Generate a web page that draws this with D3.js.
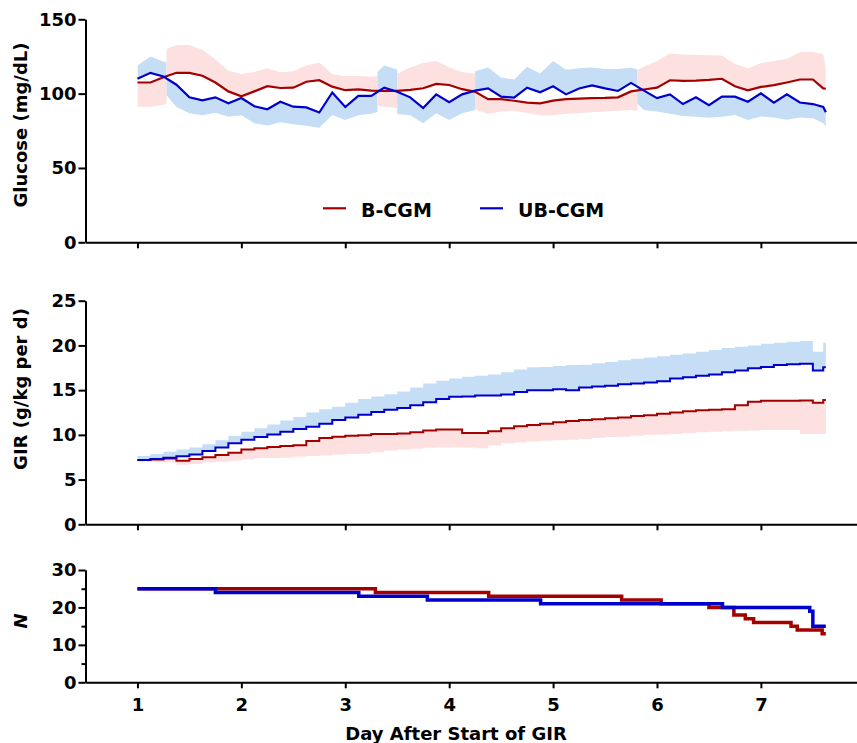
<!DOCTYPE html>
<html>
<head>
<meta charset="utf-8">
<script src="https://cdn.jsdelivr.net/npm/d3@7"></script>
<style>
  body { margin: 0; background: #fff; }
  svg text { font-family: "DejaVu Sans", sans-serif; font-weight: bold; fill: #000; }
</style>
</head>
<body>
<svg id="chart" width="857" height="743"></svg>
<script>
// time points (day after start of GIR)
const days = [1, 1.125, 1.25, 1.375, 1.5, 1.625, 1.75, 1.875, 2, 2.125, 2.25, 2.375, 2.5, 2.625, 2.75, 2.875,
  3, 3.125, 3.25, 3.375, 3.5, 3.625, 3.75, 3.875, 4, 4.125, 4.25, 4.375, 4.5, 4.625, 4.75, 4.875,
  5, 5.125, 5.25, 5.375, 5.5, 5.625, 5.75, 5.875, 6, 6.125, 6.25, 6.375, 6.5, 6.625, 6.75, 6.875,
  7, 7.125, 7.25, 7.375, 7.5, 7.6, 7.625];

// glucose mean and SD, B-CGM
const gluB = [107.5, 107.5, 111, 114, 114, 112, 107.5, 101.5, 98.2, 101.5, 105, 103.8, 104, 108, 109, 104.7,
  102.3, 102.9, 102, 101.8, 101.8, 102.5, 103.6, 106.5, 105.8, 103, 101.3, 96.3, 96.3, 95.2, 94, 93.5,
  95.3, 96.3, 96.7, 97, 97.1, 97.5, 101.5, 102.8, 104, 109, 108.6, 108.8, 109.2, 110, 105, 102.2,
  104.5, 105.7, 107.5, 109.5, 109.5, 103.5, 103.3];
const gluBsd = [16.3, 16.3, 18.5, 18.5, 18.7, 17.5, 15.5, 14, 14.8, 13, 12, 10.5, 11, 11, 12, 8.3,
  9.5, 8.9, 9.4, 10.6, 11.5, 15, 17, 15.5, 12, 11.5, 12, 10, 8.3, 6.7, 7, 8,
  9.8, 9.8, 9.7, 9.5, 9.1, 9, 12.5, 15.2, 18, 18, 17.7, 17.2, 16.6, 15.6, 15, 14.8,
  16, 16.3, 16, 18.3, 18.7, 22.9, 13.7];

// glucose mean and SD, UB-CGM
const gluUB = [110, 114, 111.5, 106, 97.5, 95.5, 97.5, 93.5, 97, 91.5, 89.5, 94.5, 91.2, 90.7, 87.3, 100.8,
  91, 98.5, 98.5, 104, 101.3, 97.5, 90.3, 99.5, 94.2, 99.5, 102, 103.5, 98, 97.3, 104, 100.9,
  105, 99.5, 103.5, 105.5, 103.5, 101.8, 107.2, 102, 97, 99.5, 93, 97.5, 92.3, 98, 98, 94.6,
  100.2, 93.9, 99.5, 94, 93, 91, 87.5];
const gluUBsd = [9, 11, 10, 15, 10.7, 10, 10.3, 9, 11.5, 11.5, 11, 13.8, 11.8, 12.3, 10.3, 15.2,
  8.7, 13, 12, 15, 15, 12, 10.3, 12.7, 12, 12.7, 13, 14, 12.8, 12.2, 14, 12.6,
  17, 16.5, 13.5, 12, 13, 14.7, 10.2, 13, 9, 13, 8, 13, 8.5, 13.5, 12.4, 12.3,
  15.6, 10, 17, 10, 9.5, 11, 9.5];

// one-sided SD shading: segments and side (+1 above, -1 below) for B-CGM; UB-CGM is opposite
const segStart = [1, 1.28, 3.31, 3.5, 4.25, 5.81];
const segEnd = [1.28, 3.31, 3.5, 4.25, 5.81, 7.625];
const segSideB = [-1, 1, -1, 1, -1, 1];

// GIR (g/kg per d)
const girB = [7.2, 7.25, 7.35, 7.1, 7.3, 7.5, 7.75, 8.0, 8.35, 8.5, 8.65, 8.75, 8.85, 9.3, 9.65, 9.8,
  9.9, 9.95, 10.1, 10.1, 10.15, 10.3, 10.5, 10.6, 10.6, 10.2, 10.2, 10.4, 10.75, 10.95, 11.1, 11.25,
  11.4, 11.55, 11.65, 11.75, 11.85, 11.95, 12.1, 12.2, 12.35, 12.5, 12.65, 12.75, 12.8, 12.85, 13.3, 13.7,
  13.8, 13.8, 13.8, 13.85, 13.6, 13.9, 13.9];
const girBlow = [7.0, 7.0, 6.9, 6.65, 6.75, 6.9, 7.0, 7.1, 7.25, 7.4, 7.4, 7.45, 7.55, 7.65, 7.7, 7.8,
  7.85, 7.9, 8.05, 8.25, 8.35, 8.45, 8.55, 8.6, 8.6, 8.6, 8.5, 8.8, 9.05, 9.15, 9.25, 9.35,
  9.4, 9.45, 9.55, 9.65, 9.75, 9.8, 9.9, 10.0, 10.05, 10.1, 10.2, 10.3, 10.35, 10.4, 10.45, 10.5,
  10.55, 10.55, 10.55, 10.1, 10.1, 10.1, 10.1];
const girUB = [7.2, 7.3, 7.45, 7.6, 7.8, 8.2, 8.6, 9.05, 9.45, 9.75, 10.05, 10.35, 10.65, 10.9, 11.25, 11.65,
  11.95, 12.25, 12.55, 12.8, 13.0, 13.3, 13.65, 14.0, 14.25, 14.3, 14.4, 14.4, 14.5, 14.8, 15.0, 15.0,
  15.1, 15.0, 15.3, 15.4, 15.5, 15.65, 15.75, 15.85, 16.0, 16.3, 16.45, 16.6, 16.75, 17.0, 17.2, 17.45,
  17.6, 17.8, 17.9, 17.95, 17.2, 17.55, 17.55];
const girUBhigh = [7.65, 7.85, 8.1, 8.35, 8.6, 8.95, 9.4, 9.9, 10.35, 10.75, 11.15, 11.6, 12.0, 12.5, 12.85, 13.15,
  13.6, 14.0, 14.3, 14.55, 14.85, 15.3, 15.75, 16.05, 16.3, 16.5, 16.6, 16.75, 17.0, 17.3, 17.55, 17.6,
  17.7, 17.8, 17.85, 18.0, 18.15, 18.35, 18.5, 18.65, 18.8, 18.95, 19.1, 19.3, 19.5, 19.7, 19.85, 20.0,
  20.2, 20.3, 20.4, 20.5, 19.3, 20.3, 20.3];

// number of infants
const nDaysB = [1, 3.29, 4.38, 5.66, 6.04, 6.5, 6.74, 6.85, 6.93, 7.29, 7.35, 7.59, 7.625];
const nB = [25, 24, 23, 22, 21, 20, 18, 17, 16, 15, 14, 13, 13];
const nDaysUB = [1, 1.75, 3.13, 3.79, 4.88, 6.63, 7.47, 7.5, 7.625];
const nUB = [25, 24, 23, 22, 21, 20, 19, 15, 15];

const xTicks = [1, 2, 3, 4, 5, 6, 7];
const RED = "#a50000", BLUE = "#0000cc", PINK = "#fde0e0", SKY = "#c6ddf6";

const svg = d3.select("#chart");
const x = d3.scaleLinear().domain([0.5, 8]).range([85.5, 864.8]);
const yGlu = d3.scaleLinear().domain([0, 150]).range([242.3, 19.3]);
const yGir = d3.scaleLinear().domain([0, 25]).range([524.3, 300.7]);
const yN = d3.scaleLinear().domain([0, 30]).range([682.3, 570]);

// ---- glucose panel ----
const defs = svg.append("defs");
segStart.forEach(function (s, i) {
  defs.append("clipPath").attr("id", "seg" + i)
    .append("rect")
    .attr("x", x(s)).attr("width", x(segEnd[i]) - x(s))
    .attr("y", 0).attr("height", 743);
});

function bandArea(mean, sd, side) {
  return d3.area()
    .x((d, i) => x(days[i]))
    .y0((d, i) => yGlu(mean[i]))
    .y1((d, i) => yGlu(mean[i] + side * sd[i]));
}

const gBands = svg.append("g");
segStart.forEach(function (s, i) {
  gBands.append("path").datum(days)
    .attr("clip-path", "url(#seg" + i + ")")
    .attr("fill", PINK)
    .attr("d", bandArea(gluB, gluBsd, segSideB[i]));
  gBands.append("path").datum(days)
    .attr("clip-path", "url(#seg" + i + ")")
    .attr("fill", SKY)
    .attr("d", bandArea(gluUB, gluUBsd, -segSideB[i]));
});

function gluLine(mean) {
  return d3.line().x((d, i) => x(days[i])).y((d, i) => yGlu(mean[i]));
}
svg.append("path").datum(days).attr("fill", "none").attr("stroke", RED)
  .attr("stroke-width", 2.2).attr("d", gluLine(gluB));
svg.append("path").datum(days).attr("fill", "none").attr("stroke", BLUE)
  .attr("stroke-width", 2.2).attr("d", gluLine(gluUB));

// legend
const legend = [
  { name: "B-CGM", color: RED, x0: 323, tx: 361 },
  { name: "UB-CGM", color: BLUE, x0: 480, tx: 518 }
];
legend.forEach(function (d) {
  svg.append("line").attr("x1", d.x0).attr("x2", d.x0 + 23).attr("y1", 208.3).attr("y2", 208.3)
    .attr("stroke", d.color).attr("stroke-width", 2.2);
  svg.append("text").attr("x", d.tx).attr("y", 216.5).style("font-size", "19px").text(d.name);
});

// ---- GIR panel ----
svg.append("path").datum(days).attr("fill", PINK)
  .attr("d", d3.area().curve(d3.curveStepAfter)
    .x((d, i) => x(days[i])).y0((d, i) => yGir(girB[i])).y1((d, i) => yGir(girBlow[i])));
svg.append("path").datum(days).attr("fill", SKY)
  .attr("d", d3.area().curve(d3.curveStepAfter)
    .x((d, i) => x(days[i])).y0((d, i) => yGir(girUB[i])).y1((d, i) => yGir(girUBhigh[i])));
svg.append("path").datum(days).attr("fill", "none").attr("stroke", RED).attr("stroke-width", 2)
  .attr("d", d3.line().curve(d3.curveStepAfter).x((d, i) => x(days[i])).y((d, i) => yGir(girB[i])));
svg.append("path").datum(days).attr("fill", "none").attr("stroke", BLUE).attr("stroke-width", 2)
  .attr("d", d3.line().curve(d3.curveStepAfter).x((d, i) => x(days[i])).y((d, i) => yGir(girUB[i])));

// ---- N panel ----
svg.append("path").datum(nDaysB).attr("fill", "none").attr("stroke", RED).attr("stroke-width", 3.5)
  .attr("d", d3.line().curve(d3.curveStepAfter).x((d, i) => x(nDaysB[i])).y((d, i) => yN(nB[i])));
svg.append("path").datum(nDaysUB).attr("fill", "none").attr("stroke", BLUE).attr("stroke-width", 3.5)
  .attr("d", d3.line().curve(d3.curveStepAfter).x((d, i) => x(nDaysUB[i])).y((d, i) => yN(nUB[i])));

// ---- axes ----
function styleAxis(g) {
  g.select(".domain").attr("stroke", "#000").attr("stroke-width", 2);
  g.selectAll(".tick line").attr("stroke", "#000").attr("stroke-width", 2);
  g.selectAll(".tick text").style("font-size", "18px").attr("fill", "#000");
}

function yAxis(y, vals) {
  svg.append("g").attr("transform", `translate(${x(0.5)},0)`)
    .call(d3.axisLeft(y).tickValues(vals).tickSize(7).tickPadding(2).tickSizeOuter(0))
    .call(styleAxis);
}
function xAxis(y, labels) {
  const ax = d3.axisBottom(x).tickValues(xTicks).tickSize(6).tickPadding(10).tickSizeOuter(0);
  if (!labels) ax.tickFormat("");
  svg.append("g").attr("transform", `translate(0,${y(0)})`).call(ax).call(styleAxis);
}

yAxis(yGlu, [0, 50, 100, 150]);
yAxis(yGir, [0, 5, 10, 15, 20, 25]);
yAxis(yN, [0, 10, 20, 30]);
svg.append("g").attr("transform", `translate(${x(0.5)},0)`)
  .call(d3.axisLeft(yN).tickValues([5, 15, 25]).tickSize(4).tickFormat("").tickSizeOuter(0))
  .call(styleAxis);

xAxis(yGlu, false);
xAxis(yGir, false);
xAxis(yN, true);

// titles
function yTitle(text, cy, italic) {
  svg.append("text").attr("transform", `translate(27,${cy}) rotate(-90)`)
    .attr("text-anchor", "middle").style("font-size", "18px")
    .style("font-style", italic ? "italic" : "normal").text(text);
}
yTitle("Glucose (mg/dL)", 125);
yTitle("GIR (g/kg per d)", 389);
yTitle("N", 621, true);

svg.append("text").attr("x", 456).attr("y", 740).attr("text-anchor", "middle")
  .style("font-size", "18px").text("Day After Start of GIR");
</script>
</body>
</html>
